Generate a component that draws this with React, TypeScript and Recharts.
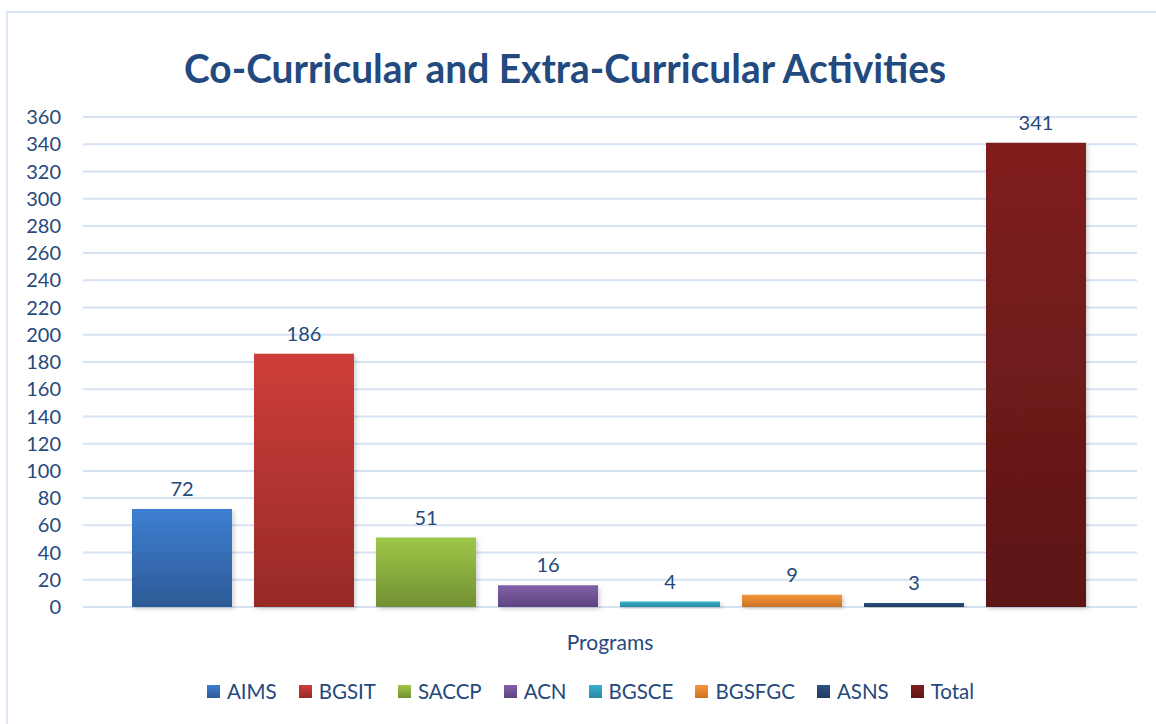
import { BarChart, Bar, XAxis, YAxis, CartesianGrid, Legend, LabelList } from 'recharts'

const programs = ['AIMS', 'BGSIT', 'SACCP', 'ACN', 'BGSCE', 'BGSFGC', 'ASNS', 'Total']
const activityCounts = [72, 186, 51, 16, 4, 9, 3, 341]
const yTicks = [0, 20, 40, 60, 80, 100, 120, 140, 160, 180, 200, 220, 240, 260, 280, 300, 320, 340, 360]

// top / bottom gradient stops per program
const topColors = ['#3E7FD2', '#CF3E3A', '#9EC748', '#8160A9', '#36B0CD', '#F79538', '#2E5181', '#801F1E']
const bottomColors = ['#2C5A96', '#972A27', '#728F33', '#5E4580', '#2A88A2', '#CC7127', '#203B60', '#5C1616']

const textBlue = '#25497C'
const font = 'Lato, "Open Sans", sans-serif'

const row: Record<string, string | number> = { name: 'Programs' }
programs.forEach((p, i) => {
  row[p] = activityCounts[i]
})
const data = [row]

function LegendContent() {
  return (
    <div
      style={{
        display: 'flex',
        justifyContent: 'center',
        alignItems: 'center',
        fontFamily: font,
        fontSize: 20.5,
        color: textBlue,
        height: 40,
        paddingTop: 4,
        paddingLeft: 44,
      }}
    >
      {programs.map((p, i) => (
        <div key={p} style={{ display: 'flex', alignItems: 'center', marginRight: i < programs.length - 1 ? 22 : 0 }}>
          <span
            style={{
              width: 13,
              height: 13,
              display: 'inline-block',
              marginRight: 7,
              background: `linear-gradient(${topColors[i]}, ${bottomColors[i]})`,
            }}
          />
          <span>{p}</span>
        </div>
      ))}
    </div>
  )
}

export default function App() {
  return (
    <div style={{ position: 'absolute', left: 0, top: 0, width: 1156, height: 724, background: '#fff', overflow: 'hidden' }}>
      <div
        style={{
          position: 'absolute',
          left: 6,
          top: 11,
          width: 1200,
          height: 800,
          borderTop: '2px solid #DCE6F4',
          borderLeft: '2px solid #DCE6F4',
        }}
      />
      <BarChart
        width={1156}
        height={724}
        data={data}
        margin={{ top: 117, right: 19, left: 0, bottom: 10 }}
        barCategoryGap={49}
        barGap={22}
        style={{ position: 'absolute', left: 0, top: 0 }}
      >
        <defs>
          {programs.map((p, i) => (
            <linearGradient key={p} id={`grad-${i}`} x1="0" y1="0" x2="0" y2="1">
              <stop offset="0%" stopColor={topColors[i]} />
              <stop offset="100%" stopColor={bottomColors[i]} />
            </linearGradient>
          ))}
          <filter id="barShadow" x="-10%" y="-10%" width="130%" height="130%">
            <feDropShadow dx="2" dy="2" stdDeviation="2" floodColor="#000" floodOpacity="0.18" />
          </filter>
        </defs>
        <text
          x={565}
          y={83}
          textAnchor="middle"
          textLength={762}
          lengthAdjust="spacingAndGlyphs"
          style={{ fontFamily: font, fontWeight: 700, fontSize: 40, fill: '#224A7E' }}
        >
          Co-Curricular and Extra-Curricular Activities
        </text>
        <CartesianGrid vertical={false} stroke="#D6E2F2" strokeWidth={2} />
        <XAxis
          dataKey="name"
          tick={false}
          axisLine={false}
          tickLine={false}
          height={60}
          label={{ value: 'Programs', position: 'insideTop', offset: 28, style: { fontFamily: font, fontSize: 21, fill: textBlue } }}
        />
        <YAxis
          domain={[0, 360]}
          ticks={yTicks}
          interval={0}
          width={83}
          axisLine={false}
          tickLine={false}
          tickMargin={16}
          tick={{ fontFamily: font, fontSize: 20, fill: textBlue }}
        />
        <Legend verticalAlign="bottom" height={47} content={<LegendContent />} />
        {programs.map((p, i) => (
          <Bar key={p} dataKey={p} fill={`url(#grad-${i})`} filter="url(#barShadow)" isAnimationActive={false}>
            <LabelList
              dataKey={p}
              position="top"
              offset={13}
              style={{ fontFamily: font, fontSize: 20, fill: textBlue }}
            />
          </Bar>
        ))}
      </BarChart>
    </div>
  )
}
